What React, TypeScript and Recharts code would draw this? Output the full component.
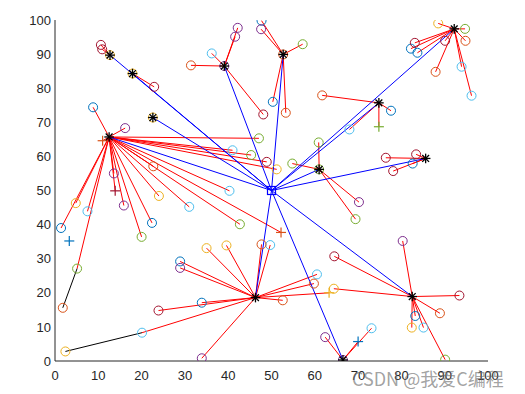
import React from 'react';
import { ScatterChart, Scatter, XAxis, YAxis, ReferenceLine } from 'recharts';

const AXIS_TICKS = [0, 10, 20, 30, 40, 50, 60, 70, 80, 90, 100];

const baseStation = [{ x: 50, y: 50 }];

const clusterHeads = [
  { x: 12.5, y: 65.7 },
  { x: 12.7, y: 89.7 },
  { x: 17.9, y: 84.3 },
  { x: 22.6, y: 71.4 },
  { x: 39.1, y: 86.5 },
  { x: 52.7, y: 89.9 },
  { x: 92.2, y: 97.4 },
  { x: 74.8, y: 75.7 },
  { x: 61.0, y: 56.2 },
  { x: 85.6, y: 59.4 },
  { x: 46.3, y: 18.6 },
  { x: 66.5, y: 0.3 },
  { x: 82.5, y: 18.9 },
];

// h = index of the cluster head the node reports to (-1 = none)
const blueNodes = [
  { x: 8.8, y: 74.4, h: 0 }, { x: 22.4, y: 40.5, h: 0 }, { x: 1.4, y: 39, h: 0 },
  { x: 47.7, y: 99.8, h: 5 }, { x: 50.3, y: 76, h: 5 }, { x: 82.2, y: 91.6, h: 6 },
  { x: 83.7, y: 90.4, h: 6 }, { x: 77.6, y: 73.4, h: 7 }, { x: 82.6, y: 57.9, h: 9 },
  { x: 28.9, y: 29.2, h: 10 }, { x: 33.9, y: 17.1, h: 10 }, { x: 83.2, y: 13.2, h: 12 },
];
const lightBlueNodes = [
  { x: 36.2, y: 90.2, h: 4 }, { x: 93.9, y: 86.3, h: 6 }, { x: 96.2, y: 77.8, h: 6 },
  { x: 68, y: 67.9, h: 7 }, { x: 41, y: 61.8, h: 0 }, { x: 40.3, y: 49.9, h: 0 },
  { x: 31, y: 45.2, h: 0 }, { x: 7.5, y: 43.9, h: 0 }, { x: 49.7, y: 34, h: 10 },
  { x: 60.5, y: 25.4, h: 10 }, { x: 20.1, y: 8.3, h: 10 }, { x: 85.1, y: 9.8, h: 12 },
  { x: 73.1, y: 9.6, h: 11 },
];
const orangeNodes = [
  { x: 31.4, y: 86.7, h: 4 }, { x: 53.3, y: 72.8, h: 5 }, { x: 94.8, y: 93.9, h: 6 },
  { x: 87.9, y: 84.8, h: 6 }, { x: 61.7, y: 77.9, h: 7 }, { x: 22.7, y: 57.1, h: 0 },
  { x: 1.8, y: 15.6, h: -1 }, { x: 47.7, y: 34.2, h: 10 }, { x: 59.8, y: 22.7, h: 10 },
  { x: 52.6, y: 17.8, h: 10 }, { x: 88.9, y: 14, h: 12 },
];
const yellowNodes = [
  { x: 88.5, y: 99, h: 6 }, { x: 35, y: 33.1, h: 10 }, { x: 39.6, y: 33.9, h: 10 },
  { x: 64.4, y: 21.2, h: 12 }, { x: 82.4, y: 9.8, h: 12 }, { x: 2.4, y: 2.8, h: -1 },
  { x: 24, y: 48.4, h: 0 }, { x: 4.8, y: 46.3, h: 0 }, { x: 51.2, y: 56.2, h: 0 },
];
const purpleNodes = [
  { x: 16.2, y: 68.3, h: 0 }, { x: 42.2, y: 97.7, h: 4 }, { x: 41.6, y: 95.1, h: 4 },
  { x: 47.6, y: 97.3, h: 5 }, { x: 13.6, y: 55, h: 0 }, { x: 15.9, y: 45.6, h: 0 },
  { x: 28.9, y: 27.3, h: 10 }, { x: 33.9, y: 0.8, h: 10 }, { x: 62.4, y: 7, h: 11 },
  { x: 70.2, y: 46.6, h: 8 }, { x: 80.3, y: 35.2, h: 12 },
];
const greenNodes = [
  { x: 57.2, y: 92.9, h: 5 }, { x: 94.7, y: 97.4, h: 6 }, { x: 47.1, y: 65.3, h: 0 },
  { x: 45.3, y: 60.4, h: 0 }, { x: 54.8, y: 57.9, h: 8 }, { x: 60.9, y: 64.1, h: 8 },
  { x: 42.7, y: 40.1, h: 0 }, { x: 20, y: 36.4, h: 0 }, { x: 69.4, y: 41.6, h: 8 },
  { x: 5.1, y: 27.1, h: 0 }, { x: 90.1, y: 0.4, h: 12 },
];
const darkRedNodes = [
  { x: 10.6, y: 92.7, h: 1 }, { x: 10.9, y: 91.4, h: 1 }, { x: 22.9, y: 80.4, h: 2 },
  { x: 48.1, y: 72.3, h: 4 }, { x: 83.1, y: 93.3, h: 6 }, { x: 90.1, y: 93.9, h: 6 },
  { x: 48.9, y: 58.4, h: 0 }, { x: 76.4, y: 59.6, h: 9 }, { x: 83.4, y: 60.6, h: 9 },
  { x: 78.1, y: 55.7, h: 9 }, { x: 23.9, y: 14.8, h: 10 }, { x: 64.5, y: 30.7, h: 12 },
  { x: 93.4, y: 19.2, h: 12 },
];

const plusBlue = [{ x: 3.3, y: 35.2, h: -1 }, { x: 70, y: 5.7, h: 11 }];
const plusOrange = [{ x: 11, y: 64.6, h: 0 }, { x: 52.2, y: 37.7, h: 0 }];
const plusDarkRed = [{ x: 13.9, y: 49.9, h: 0 }];
const plusGreen = [{ x: 74.8, y: 68.7, h: 7 }];
const plusYellow = [{ x: 63.3, y: 20, h: 10 }];

const headsOnYellow = [1, 2, 3];
const headsOnPurple = [4, 11];
const headsOnOrange = [5];
const headsOnGreen = [8];

const blackLinks = [
  [{ x: 5.1, y: 27.1 }, { x: 1.8, y: 15.6 }],
  [{ x: 2.4, y: 2.8 }, { x: 20.1, y: 8.3 }],
];

const C = {
  blue: '#0072BD',
  orange: '#D95319',
  yellow: '#EDB120',
  purple: '#7E2F8E',
  green: '#77AC30',
  lightBlue: '#4DBEEE',
  darkRed: '#A2142F',
};

const circleShape = (color: string) => (p: any) => (
  <circle cx={p.cx} cy={p.cy} r={4.5} fill="none" stroke={color} strokeWidth={1} />
);
const plusShape = (color: string) => (p: any) => (
  <g stroke={color} strokeWidth={1.2}>
    <line x1={p.cx - 5} y1={p.cy} x2={p.cx + 5} y2={p.cy} />
    <line x1={p.cx} y1={p.cy - 5} x2={p.cx} y2={p.cy + 5} />
  </g>
);
const starShape = (p: any) => {
  const s = 4.8;
  const d = 3.4;
  return (
    <g stroke="#000" strokeWidth={1.3}>
      <line x1={p.cx - s} y1={p.cy} x2={p.cx + s} y2={p.cy} />
      <line x1={p.cx} y1={p.cy - s} x2={p.cx} y2={p.cy + s} />
      <line x1={p.cx - d} y1={p.cy - d} x2={p.cx + d} y2={p.cy + d} />
      <line x1={p.cx - d} y1={p.cy + d} x2={p.cx + d} y2={p.cy - d} />
    </g>
  );
};
const squareShape = (p: any) => (
  <rect x={p.cx - 4} y={p.cy - 4} width={8} height={8} fill="none" stroke="#0000FF" strokeWidth={1.2} />
);
const emptyTick = () => <g />;

const allNodes = [
  ...blueNodes, ...lightBlueNodes, ...orangeNodes, ...yellowNodes, ...purpleNodes,
  ...greenNodes, ...darkRedNodes, ...plusBlue, ...plusOrange, ...plusDarkRed,
  ...plusGreen, ...plusYellow,
];

const axisColor = '#262626';
const tickFont = { fill: axisColor, fontSize: 13, fontFamily: 'Liberation Sans, Arial, sans-serif' };

export default function App() {
  const circleGroups: [string, any[]][] = [
    [C.blue, blueNodes], [C.lightBlue, lightBlueNodes], [C.orange, orangeNodes],
    [C.yellow, yellowNodes], [C.purple, purpleNodes], [C.green, greenNodes],
    [C.darkRed, darkRedNodes],
    [C.yellow, headsOnYellow.map((i) => clusterHeads[i])],
    [C.purple, headsOnPurple.map((i) => clusterHeads[i])],
    [C.orange, headsOnOrange.map((i) => clusterHeads[i])],
    [C.green, headsOnGreen.map((i) => clusterHeads[i])],
  ];
  const plusGroups: [string, any[]][] = [
    [C.blue, plusBlue], [C.orange, plusOrange], [C.darkRed, plusDarkRed],
    [C.green, plusGreen], [C.yellow, plusYellow],
  ];
  return (
    <div style={{ position: 'relative', width: 517, height: 386 }}>
      <ScatterChart width={517} height={386} margin={{ top: 12, right: 37, bottom: 0, left: 0 }}>
        <XAxis xAxisId={0} type="number" dataKey="x" domain={[0, 100]} ticks={AXIS_TICKS} interval={0}
          allowDataOverflow height={33} tickLine={false} tickSize={0} tickMargin={10}
          axisLine={{ stroke: axisColor }} tick={tickFont} />
        <YAxis yAxisId={0} type="number" dataKey="y" domain={[0, 100]} ticks={AXIS_TICKS} interval={0}
          allowDataOverflow width={47} tickLine={false} tickSize={0} tickMargin={4}
          axisLine={{ stroke: axisColor }} tick={tickFont} />
        <XAxis xAxisId="xin" type="number" domain={[0, 100]} ticks={AXIS_TICKS} interval={0}
          allowDataOverflow mirror height={0} tickSize={5} axisLine={false}
          tickLine={{ stroke: axisColor }} tick={emptyTick} />
        <XAxis xAxisId="xtop" orientation="top" type="number" domain={[0, 100]} ticks={AXIS_TICKS} interval={0}
          allowDataOverflow mirror height={0} tickSize={5} axisLine={{ stroke: axisColor }}
          tickLine={{ stroke: axisColor }} tick={emptyTick} />
        <YAxis yAxisId="yin" type="number" domain={[0, 100]} ticks={AXIS_TICKS} interval={0}
          allowDataOverflow mirror width={0} tickSize={5} axisLine={false}
          tickLine={{ stroke: axisColor }} tick={emptyTick} />
        <YAxis yAxisId="yright" orientation="right" type="number" domain={[0, 100]} ticks={AXIS_TICKS} interval={0}
          allowDataOverflow mirror width={0} tickSize={5} axisLine={{ stroke: axisColor }}
          tickLine={{ stroke: axisColor }} tick={emptyTick} />

        {allNodes.filter((n) => n.h >= 0).map((n, i) => (
          <ReferenceLine key={'r' + i} ifOverflow="visible"
            segment={[{ x: n.x, y: n.y }, { x: clusterHeads[n.h].x, y: clusterHeads[n.h].y }]}
            stroke="#FF0000" strokeWidth={1} />
        ))}
        {clusterHeads.map((h, i) => (
          <ReferenceLine key={'b' + i} ifOverflow="visible"
            segment={[{ x: h.x, y: h.y }, baseStation[0]]}
            stroke="#0000FF" strokeWidth={1} />
        ))}
        {blackLinks.map((l, i) => (
          <ReferenceLine key={'k' + i} ifOverflow="visible" segment={l} stroke="#000" strokeWidth={1} />
        ))}

        {circleGroups.map(([color, data], i) => (
          <Scatter key={'c' + i} data={data} isAnimationActive={false} shape={circleShape(color)} />
        ))}
        {plusGroups.map(([color, data], i) => (
          <Scatter key={'p' + i} data={data} isAnimationActive={false} shape={plusShape(color)} />
        ))}
        <Scatter data={clusterHeads} isAnimationActive={false} shape={starShape} />
        <Scatter data={baseStation} isAnimationActive={false} shape={squareShape} />
      </ScatterChart>
      <div style={{
        position: 'absolute', left: 344, top: 357, fontSize: 18, whiteSpace: 'nowrap',
        fontFamily: '"Noto Sans CJK SC", "Liberation Sans", sans-serif', color: 'rgba(110,110,110,0.65)',
      }}>CSDN @我爱C编程</div>
    </div>
  );
}
